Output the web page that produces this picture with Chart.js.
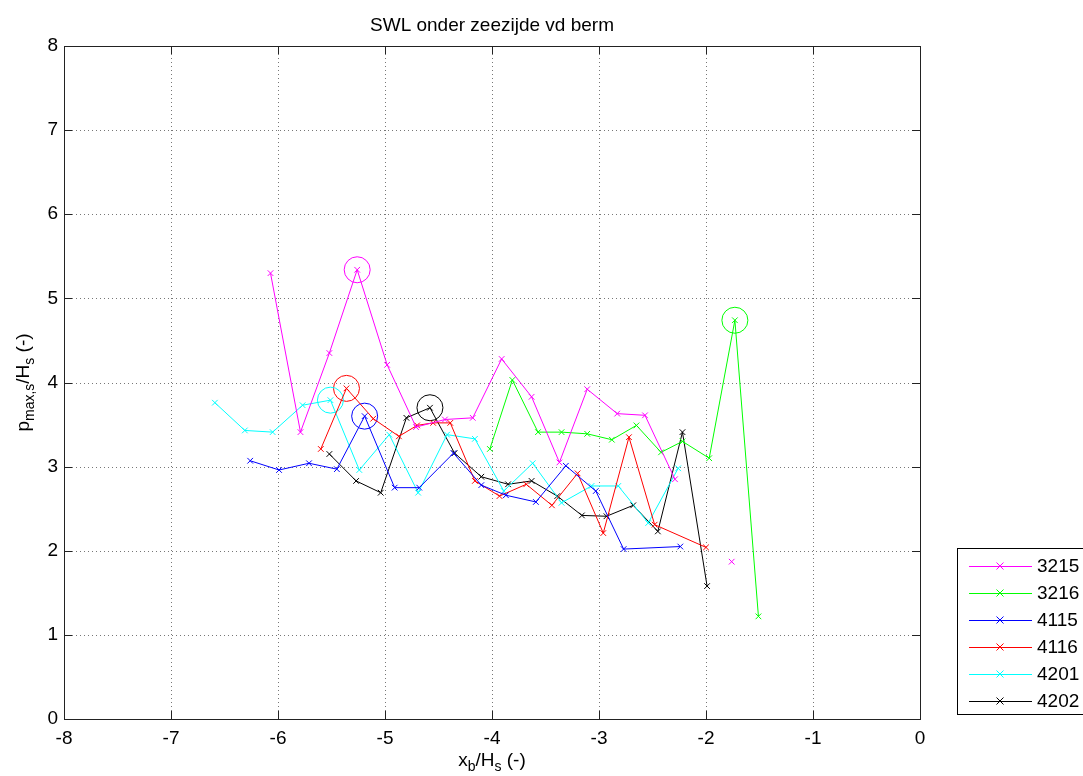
<!DOCTYPE html>
<html>
<head>
<meta charset="utf-8">
<script src="https://cdn.jsdelivr.net/npm/chart.js@4.4.1/dist/chart.umd.min.js"></script>
<style>
  html, body { margin: 0; padding: 0; background: #fff; overflow: hidden; }
  #wrap { position: relative; width: 1083px; height: 776px; }
</style>
</head>
<body>
<div id="wrap"><canvas id="c" width="1083" height="776"></canvas></div>
<script>
// Axis ticks
const xTicks = [-8, -7, -6, -5, -4, -3, -2, -1, 0];
const yTicks = [0, 1, 2, 3, 4, 5, 6, 7, 8];

// Test series
const seriesNames = ['3215', '3216', '4115', '4116', '4201', '4202'];
const seriesColors = ['#ff00ff', '#00ff00', '#0000ff', '#ff0000', '#00ffff', '#000000'];

const x3215 = [-6.07, -5.79, -5.52, -5.26, -4.98, -4.71, -4.44, -4.18, -3.91, -3.63, -3.37, -3.11, -2.83, -2.57, -2.29, -2.00, -1.76];
const y3215 = [5.30, 3.41, 4.35, 5.34, 4.21, 3.47, 3.56, 3.58, 4.28, 3.83, 3.05, 3.92, 3.63, 3.61, 2.85, null, 1.87];

const x3216 = [-4.02, -3.81, -3.57, -3.35, -3.11, -2.88, -2.65, -2.42, -2.22, -1.97, -1.73, -1.51];
const y3216 = [3.21, 4.03, 3.41, 3.41, 3.39, 3.32, 3.49, 3.17, 3.30, 3.10, 4.74, 1.22];

const x4115 = [-6.26, -5.99, -5.71, -5.45, -5.19, -4.91, -4.68, -4.36, -4.10, -3.87, -3.59, -3.31, -3.03, -2.77, -2.24];
const y4115 = [3.07, 2.96, 3.04, 2.97, 3.60, 2.75, 2.75, 3.16, 2.78, 2.66, 2.58, 3.01, 2.71, 2.02, 2.05];

const x4116 = [-5.60, -5.36, -5.11, -4.87, -4.70, -4.55, -4.39, -4.16, -3.93, -3.68, -3.44, -3.20, -2.96, -2.72, -2.48, -2.00];
const y4116 = [3.21, 3.93, 3.57, 3.36, 3.49, 3.52, 3.52, 2.83, 2.65, 2.79, 2.54, 2.92, 2.21, 3.35, 2.31, 2.04];

const x4201 = [-6.59, -6.31, -6.05, -5.77, -5.51, -5.24, -4.96, -4.69, -4.42, -4.16, -3.89, -3.62, -3.35, -3.07, -2.82, -2.54, -2.26];
const y4201 = [3.76, 3.43, 3.41, 3.73, 3.79, 2.96, 3.38, 2.69, 3.38, 3.33, 2.71, 3.04, 2.57, 2.77, 2.77, 2.33, 2.98];

const x4202 = [-5.52, -5.27, -5.04, -4.80, -4.58, -4.35, -4.10, -3.85, -3.63, -3.39, -3.16, -2.93, -2.68, -2.45, -2.22, -1.99];
const y4202 = [3.15, 2.83, 2.69, 3.58, 3.70, 3.16, 2.88, 2.79, 2.83, 2.65, 2.42, 2.41, 2.54, 2.23, 3.41, 1.58];

const seriesX = [x3215, x3216, x4115, x4116, x4201, x4202];
const seriesY = [y3215, y3216, y4115, y4116, y4201, y4202];

const FONT = '"Liberation Sans", Arial, Helvetica, sans-serif';

function toPoints(xs, ys) {
  return xs.map((x, i) => ({ x: x, y: ys[i] }));
}

// Highest point of each series gets a ring
function peakOf(xs, ys) {
  let best = -1;
  ys.forEach((v, i) => { if (v !== null && (best < 0 || v > ys[best])) best = i; });
  return { x: xs[best], y: ys[best] };
}

const datasets = seriesNames.map((name, i) => ({
  label: name,
  data: toPoints(seriesX[i], seriesY[i]),
  showLine: true,
  spanGaps: false,
  borderColor: seriesColors[i],
  backgroundColor: seriesColors[i],
  borderWidth: 1,
  pointStyle: 'crossRot',
  pointRadius: 4,
  pointBorderWidth: 1,
  pointHoverRadius: 4,
  tension: 0
}));

datasets.push({
  label: 'peaks',
  data: seriesNames.map((_, i) => peakOf(seriesX[i], seriesY[i])),
  showLine: false,
  pointStyle: 'circle',
  pointRadius: 13,
  pointHoverRadius: 13,
  pointBorderWidth: 1,
  borderColor: seriesColors,
  pointBorderColor: seriesColors,
  backgroundColor: 'rgba(0,0,0,0)',
  pointBackgroundColor: 'rgba(0,0,0,0)'
});

function drawRich(ctx, parts, x, y, size, subSize, subDrop) {
  // parts: [text, isSub]
  let w = 0;
  parts.forEach(p => {
    ctx.font = (p[1] ? subSize : size) + 'px ' + FONT;
    w += ctx.measureText(p[0]).width;
  });
  let cx = x - w / 2;
  ctx.textAlign = 'left';
  ctx.textBaseline = 'alphabetic';
  parts.forEach(p => {
    ctx.font = (p[1] ? subSize : size) + 'px ' + FONT;
    ctx.fillText(p[0], cx, y + (p[1] ? subDrop : 0));
    cx += ctx.measureText(p[0]).width;
  });
}

// Grid, inward ticks and axis box behind the data
const framePlugin = {
  id: 'frame',
  beforeDatasetsDraw(chart) {
    const { ctx, chartArea: a, scales } = chart;
    const xs = scales.x, ys = scales.y;
    ctx.save();
    ctx.strokeStyle = '#777';
    ctx.lineWidth = 1;
    ctx.setLineDash([1, 3]);
    xTicks.forEach(t => {
      const px = Math.round(xs.getPixelForValue(t)) + 0.5;
      if (t === xTicks[0] || t === xTicks[xTicks.length - 1]) return;
      ctx.beginPath(); ctx.moveTo(px, a.top); ctx.lineTo(px, a.bottom); ctx.stroke();
    });
    yTicks.forEach(t => {
      const py = Math.round(ys.getPixelForValue(t)) + 0.5;
      if (t === yTicks[0] || t === yTicks[yTicks.length - 1]) return;
      ctx.beginPath(); ctx.moveTo(a.left, py); ctx.lineTo(a.right, py); ctx.stroke();
    });
    ctx.setLineDash([]);
    ctx.strokeStyle = '#222';
    const L = 8;
    xTicks.forEach(t => {
      const px = Math.round(xs.getPixelForValue(t)) + 0.5;
      ctx.beginPath();
      ctx.moveTo(px, a.bottom); ctx.lineTo(px, a.bottom - L);
      ctx.moveTo(px, a.top); ctx.lineTo(px, a.top + L);
      ctx.stroke();
    });
    yTicks.forEach(t => {
      const py = Math.round(ys.getPixelForValue(t)) + 0.5;
      ctx.beginPath();
      ctx.moveTo(a.left, py); ctx.lineTo(a.left + L, py);
      ctx.moveTo(a.right, py); ctx.lineTo(a.right - L, py);
      ctx.stroke();
    });
    ctx.strokeRect(Math.round(a.left) + 0.5, Math.round(a.top) + 0.5,
                   Math.round(a.right - a.left), Math.round(a.bottom - a.top));
    ctx.restore();
  },
  afterDraw(chart) {
    const { ctx, chartArea: a } = chart;
    ctx.save();
    ctx.fillStyle = '#000';
    // Title
    ctx.font = '19px ' + FONT;
    ctx.textAlign = 'center';
    ctx.textBaseline = 'alphabetic';
    ctx.fillText('SWL onder zeezijde vd berm', (a.left + a.right) / 2, 31);
    // x axis title
    drawRich(ctx, [['x', false], ['b', true], ['/H', false], ['s', true], [' (-)', false]],
             (a.left + a.right) / 2, 766, 19, 14, 5);
    // y axis title
    ctx.save();
    ctx.translate(29, (a.top + a.bottom) / 2);
    ctx.rotate(-Math.PI / 2);
    drawRich(ctx, [['p', false], ['max,s', true], ['/H', false], ['s', true], [' (-)', false]],
             0, 0, 19, 14, 5);
    ctx.restore();

    // Legend
    const bx = 957.5, by = 548.5, bh = 166;
    ctx.strokeStyle = '#000';
    ctx.lineWidth = 1;
    ctx.fillStyle = '#fff';
    ctx.fillRect(bx, by, 200, bh);
    ctx.strokeRect(bx, by, 200, bh);
    seriesNames.forEach((name, i) => {
      const yy = 566 + i * 27;
      ctx.strokeStyle = seriesColors[i];
      ctx.beginPath();
      ctx.moveTo(969, yy + 0.5); ctx.lineTo(1032, yy + 0.5);
      ctx.stroke();
      const r = 3.5;
      ctx.beginPath();
      ctx.moveTo(1000 - r, yy - r); ctx.lineTo(1000 + r, yy + r);
      ctx.moveTo(1000 - r, yy + r); ctx.lineTo(1000 + r, yy - r);
      ctx.stroke();
      ctx.fillStyle = '#000';
      ctx.font = '19px ' + FONT;
      ctx.textAlign = 'left';
      ctx.textBaseline = 'middle';
      ctx.fillText(name, 1037, yy + 1);
    });
    ctx.restore();
  }
};

new Chart(document.getElementById('c'), {
  type: 'scatter',
  data: { datasets: datasets },
  options: {
    responsive: false,
    devicePixelRatio: 1,
    animation: false,
    events: [],
    layout: { padding: { top: 46, right: 163, left: 0, bottom: 0 } },
    plugins: {
      legend: { display: false },
      title: { display: false },
      tooltip: { enabled: false }
    },
    scales: {
      x: {
        type: 'linear',
        min: -8, max: 0,
        afterFit(scale) { scale.height = 57; },
        afterBuildTicks(scale) { scale.ticks = xTicks.map(v => ({ value: v })); },
        grid: { display: false, drawTicks: false },
        border: { display: false },
        ticks: { color: '#000', padding: 8, font: { family: FONT, size: 19 }, maxRotation: 0,
                 callback: v => String(v) }
      },
      y: {
        type: 'linear',
        min: 0, max: 8,
        afterFit(scale) { scale.width = 64; },
        afterBuildTicks(scale) { scale.ticks = yTicks.map(v => ({ value: v })); },
        grid: { display: false, drawTicks: false },
        border: { display: false },
        ticks: { color: '#000', padding: 6, font: { family: FONT, size: 19 },
                 callback: v => String(v) }
      }
    }
  },
  plugins: [framePlugin]
});
</script>
</body>
</html>
